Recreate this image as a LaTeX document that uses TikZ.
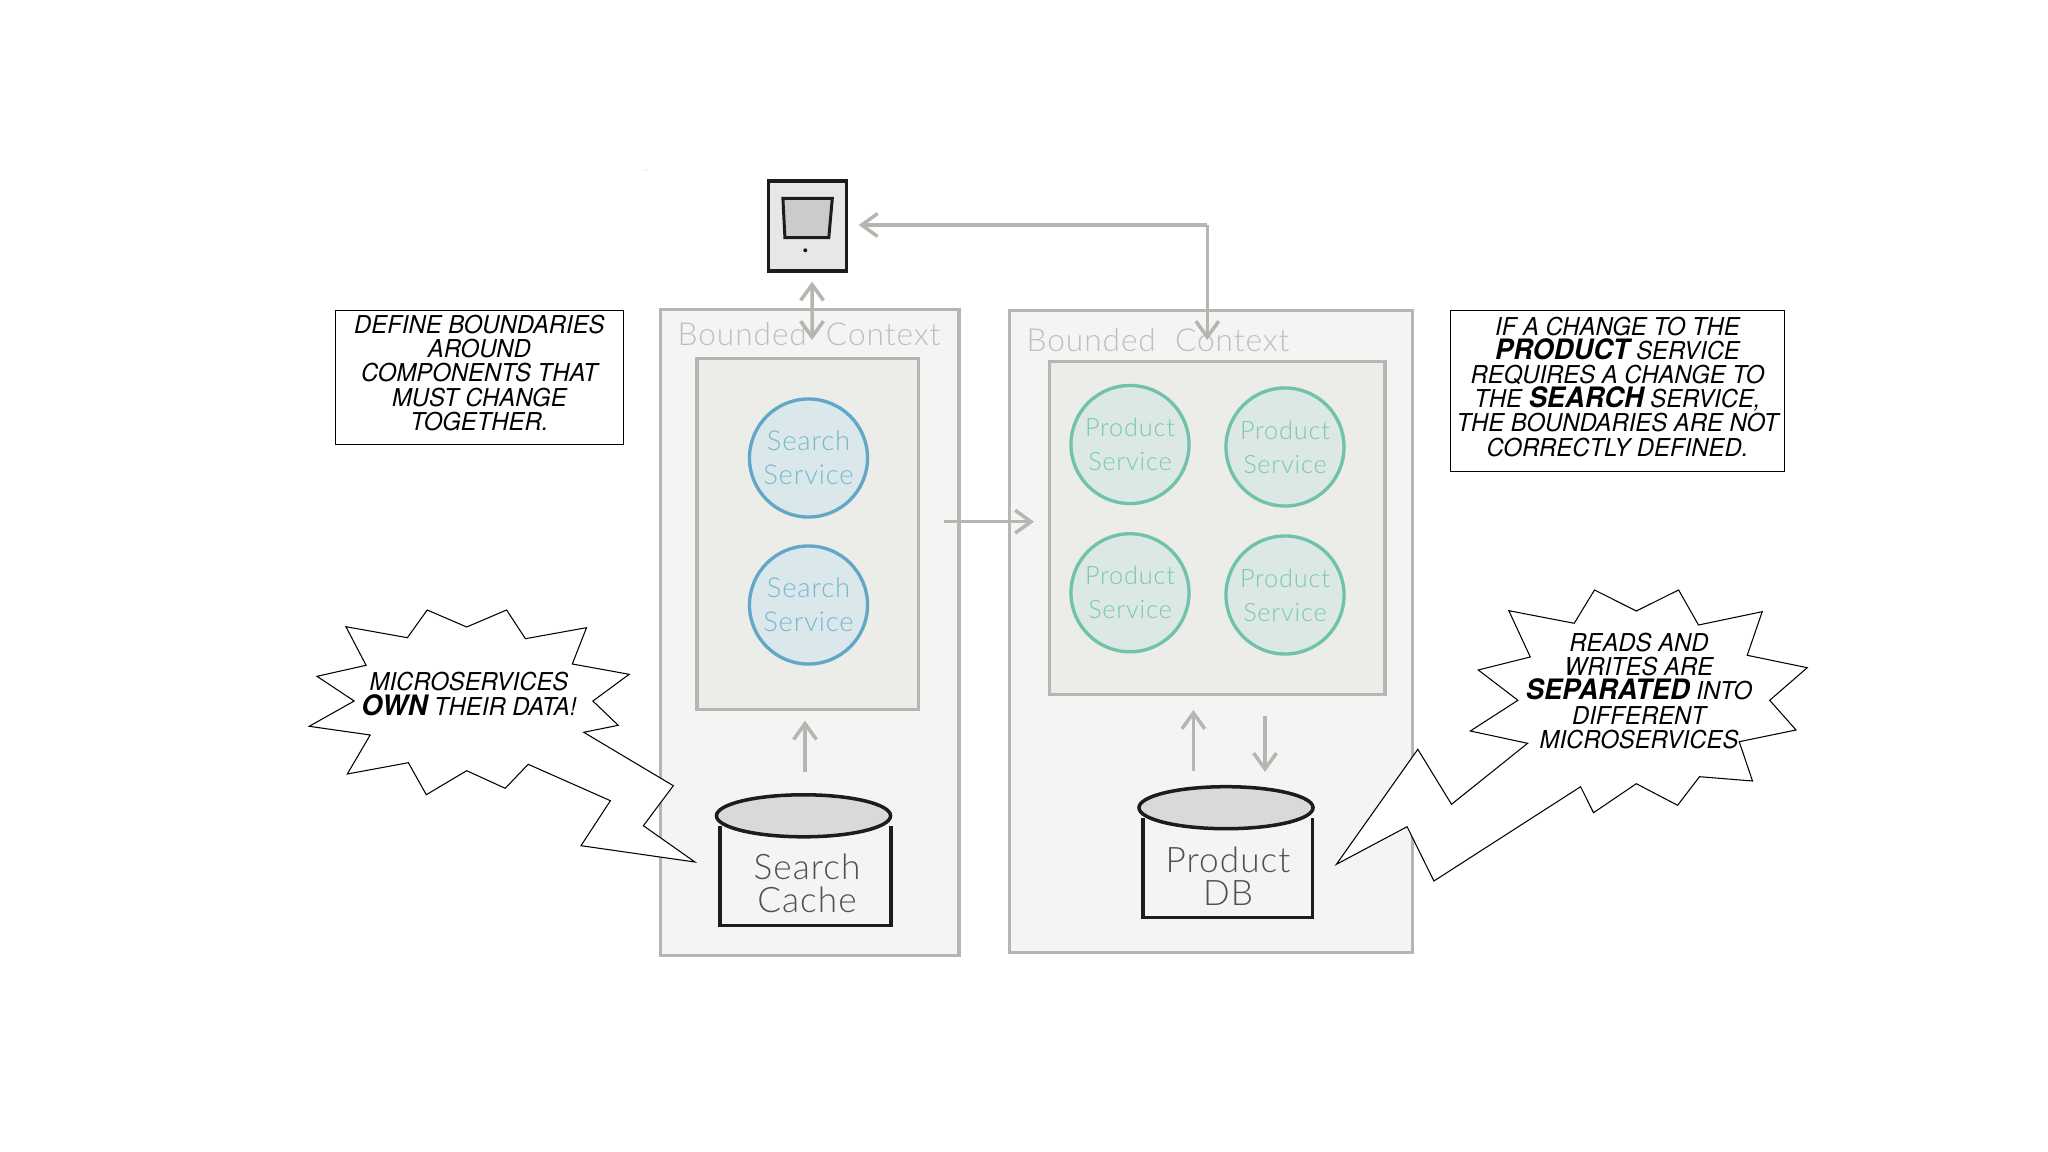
\documentclass[tikz,border=0pt]{standalone}
\usepackage{fontspec}
\usepackage{xcolor}
\usetikzlibrary{arrows.meta,positioning,shapes.geometric}
\newfontfamily\comicfont[FakeStretch=0.97]{TeX Gyre Heros}
\newfontfamily\handfont[UprightFont={* Light},LetterSpace=3]{Lato}
\definecolor{ctxfill}{RGB}{244,244,244}
\definecolor{innerfill}{RGB}{236,236,233}
\definecolor{edgegray}{RGB}{182,182,176}
\definecolor{titlegray}{RGB}{190,190,186}
\definecolor{searchblue}{RGB}{98,168,198}
\definecolor{searchfill}{RGB}{218,231,235}
\definecolor{searchtext}{RGB}{122,184,206}
\definecolor{productgreen}{RGB}{112,194,168}
\definecolor{productfill}{RGB}{220,232,229}
\definecolor{producttext}{RGB}{122,200,176}
\definecolor{lidgray}{RGB}{217,217,215}
\definecolor{screengray}{RGB}{203,203,205}
\definecolor{tabletgray}{RGB}{231,231,233}
\definecolor{inkblack}{RGB}{28,28,28}
\definecolor{dbtext}{RGB}{80,80,80}
\tikzset{
  ctxbox/.style={draw=edgegray,fill=ctxfill,line width=0.9pt,inner sep=0pt},
  innerbox/.style={draw=edgegray,fill=innerfill,line width=0.9pt,inner sep=0pt},
  searchsvc/.style={circle,draw=searchblue,fill=searchfill,line width=0.95pt,minimum size=1.18cm,inner sep=0pt,
    text=searchtext,align=center,font=\handfont\fontsize{7.8}{9.7}\selectfont},
  productsvc/.style={circle,draw=productgreen,fill=productfill,line width=0.95pt,minimum size=1.18cm,inner sep=0pt,
    text=producttext,align=center,font=\handfont\fontsize{7.2}{9.7}\selectfont},
  dblid/.style={ellipse,draw=inkblack,fill=lidgray,line width=1pt,minimum width=1.74cm,minimum height=0.42cm,inner sep=0pt},
  dbbody/.style={draw=inkblack,fill=ctxfill,line width=0.9pt},
  dblabel/.style={text=dbtext,align=center,inner sep=0pt,font=\handfont\fontsize{10}{9.4}\selectfont},
  ctxtitle/.style={text=titlegray,inner sep=0pt,font=\handfont\fontsize{9}{10}\selectfont},
  flow/.style={draw=edgegray,line width=1pt,-{Straight Barb[length=4.5pt,width=6.5pt]}},
  notebox/.style={draw=black,fill=white,line width=0.3pt,inner sep=0pt},
  burst/.style={draw=black,fill=white,line width=0.3pt,line join=miter},
  bursttext/.style={inner sep=0pt,align=center,font=\comicfont\itshape\fontsize{7}{6.88}\selectfont},
}
\newcommand{\bigword}[1]{{\fontsize{8}{6.88}\selectfont\bfseries #1}}
\begin{document}
\begin{tikzpicture}[x=0.01cm,y=-0.01cm]
  \useasboundingbox (0,0) rectangle (2048,1152);
  \fill[gray!60] (646,170) circle (0.6);

  \node[ctxbox,minimum width=2.985cm,minimum height=6.45cm] (leftctx) at (809.6,632.5) {};
  \node[ctxbox,minimum width=4.03cm,minimum height=6.42cm] (rightctx) at (1210.9,631.7) {};
  \node[ctxtitle] (lefttitle) at (809,334) {Bounded\ \ Context};
  \node[ctxtitle] (righttitle) at (1158,340) {Bounded\ \ Context};
  \node[innerbox,minimum width=2.216cm,minimum height=3.5cm] (searchbox) at (807.8,534) {};
  \node[innerbox,minimum width=3.352cm,minimum height=3.33cm] (productbox) at (1217.3,527.8) {};

  \node[searchsvc] (searchone) at (808.5,458) {Search\\Service};
  \node[searchsvc] (searchtwo) at (808.5,605) {Search\\Service};
  \node[productsvc] (productone) at (1130,444.5) {Product\\Service};
  \node[productsvc] (producttwo) at (1285,447) {Product\\Service};
  \node[productsvc] (productthree) at (1130,592.8) {Product\\Service};
  \node[productsvc] (productfour) at (1285,595) {Product\\Service};

  % tablet
  \node[draw=inkblack,fill=tabletgray,line width=0.9pt,minimum width=0.78cm,minimum height=0.9cm,inner sep=0pt] (tablet) at (807.1,226) {};
  \draw[inkblack,fill=screengray,line width=0.85pt] (782.9,198.3) -- (832.3,198.3) -- (828.8,237.7) -- (784.9,237.7) -- cycle;
  \fill[inkblack] (805.3,250.3) circle (2);

  % databases
  \draw[dbbody] (720,826) -- (720,925.7) -- (891,925.7) -- (891,826);
  \node[dblid] (cachelid) at (803.5,815.8) {};
  \node[dblabel] (cachelabel) at (807,883) {Search\\Cache};
  \draw[dbbody] (1143,818) -- (1143,917.3) -- (1312.8,917.3) -- (1312.8,818);
  \node[dblid] (productlid) at (1226,807.7) {};
  \node[dblabel] (productlabel) at (1228,876) {Product\\DB};

  % connectors
  \coordinate (ctxtop) at (812,340);
  \coordinate (cornerfar) at (1207.3,225);
  \coordinate (ctxdrop) at (1207.3,340);
  \coordinate (crossfrom) at (943.6,521.7);
  \coordinate (crossto) at (1034,521.7);
  \draw[flow,{Straight Barb[length=4.5pt,width=6.5pt]}-{Straight Barb[length=4.5pt,width=6.5pt]},shorten <=0.09cm] ([xshift=0.05cm]tablet.south) -- (ctxtop);
  \draw[flow] (cornerfar) -- (ctxdrop);
  \draw[flow,shorten >=0.11cm] (cornerfar) -- (tablet.east |- cornerfar);
  \draw[flow] (crossfrom) -- (crossto);
  \draw[flow,shorten <=0.215cm,shorten >=0.1cm] ([xshift=0.015cm]cachelid.north) -- ([xshift=0.015cm]cachelid.north |- searchbox.south);
  \draw[flow,shorten <=0.143cm,shorten >=0.14cm] ([xshift=-0.326cm]productlid.north) -- ([xshift=-0.326cm]productlid.north |- productbox.south);
  \draw[flow,shorten <=0.197cm,shorten >=0.13cm] ([xshift=0.39cm]productlid.north |- productbox.south) -- ([xshift=0.39cm]productlid.north);

  % notes
  \node[notebox,minimum width=2.873cm,minimum height=1.33cm] (defnote) at (479.4,377.5) {};
  \node[bursttext] (deftext) at (479.4,373) {DEFINE BOUNDARIES\\AROUND\\COMPONENTS THAT\\MUST CHANGE\\TOGETHER.};
  \node[notebox,minimum width=3.33cm,minimum height=1.605cm] (changenote) at (1617.5,391.2) {};
  \node[bursttext] (changetext) at (1617.5,386.7)
    {IF A CHANGE TO THE\\\bigword{PRODUCT} SERVICE\\REQUIRES A CHANGE TO\\THE \bigword{SEARCH} SERVICE,\\THE BOUNDARIES ARE NOT\\CORRECTLY DEFINED.};

  % bursts
  \draw[burst] (427.2,610) -- (466.7,627) -- (506.6,610) -- (525.4,638.7) -- (586.5,627.7) -- (572.3,664) -- (629.2,674.3)
    -- (592.9,701) -- (618.2,725.3) -- (583.7,732.3) -- (673.3,785.7) -- (643.4,825.7) -- (694.9,862) -- (581,845.7)
    -- (610.4,800.7) -- (528.2,764.3) -- (505.2,788.3) -- (466.7,770.7) -- (426.3,794.7) -- (408.4,762.7) -- (347.3,774)
    -- (370.2,735) -- (309.2,726.3) -- (354.2,701) -- (317,676.3) -- (366.1,665.3) -- (345.9,626.7) -- (407.4,637.7) -- cycle;
  \node[bursttext] (owntext) at (469,694) {MICROSERVICES\\\bigword{OWN} THEIR DATA!};
  \draw[burst] (1594.5,590) -- (1636.3,611) -- (1678.6,590) -- (1698.5,625) -- (1762.2,611.7) -- (1747.2,655.3) -- (1807.2,667.7)
    -- (1769.7,700.3) -- (1796,730) -- (1739.2,741.7) -- (1752.5,781) -- (1699.5,776.7) -- (1677.6,805.3) -- (1636.3,783.7)
    -- (1593.5,812.7) -- (1580.6,786.7) -- (1433.9,881) -- (1407.1,826.7) -- (1336.4,864.3) -- (1417.8,749.3) -- (1451.5,804.3)
    -- (1527.6,743.3) -- (1470.3,731) -- (1517.9,700.3) -- (1478.3,670) -- (1530.3,657) -- (1508.8,610.7) -- (1574.2,623.3) -- cycle;
  \node[bursttext] (readstext) at (1639,691) {READS AND\\WRITES ARE\\\bigword{SEPARATED} INTO\\DIFFERENT\\MICROSERVICES};
\end{tikzpicture}
\end{document}
